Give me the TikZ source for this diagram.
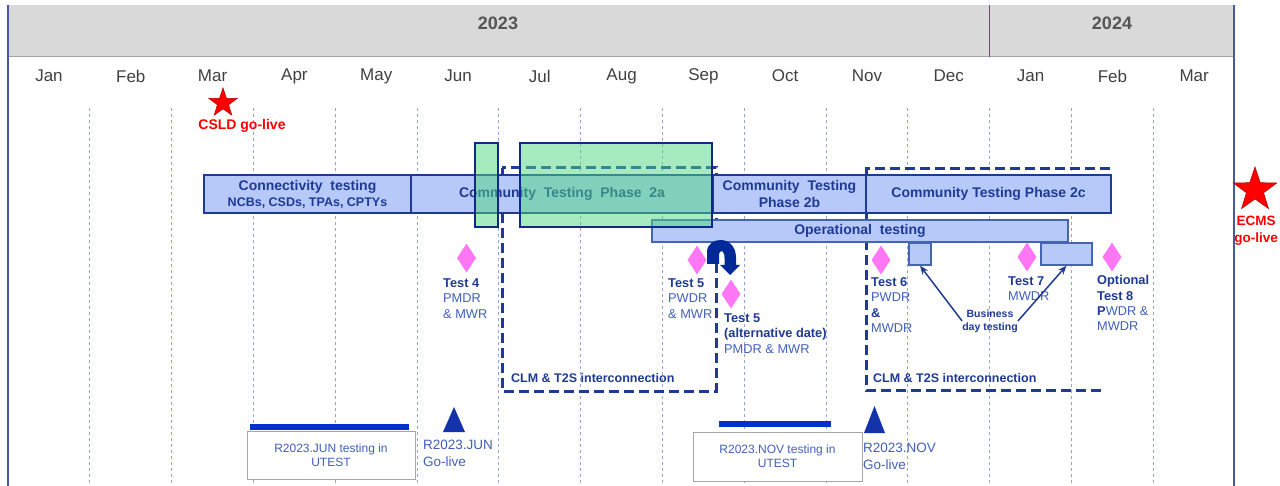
\documentclass[tikz,border=0pt]{standalone}
\usepackage{fontspec}
\setmainfont{Liberation Sans}
\usetikzlibrary{shapes.geometric,arrows.meta}
\definecolor{navy}{RGB}{31,58,147}
\definecolor{dnavy}{RGB}{16,40,138}
\definecolor{lblue}{RGB}{183,201,249}
\definecolor{mblue}{RGB}{65,95,185}
\definecolor{gridc}{RGB}{150,165,205}
\definecolor{hdr}{RGB}{217,217,217}
\definecolor{hdrline}{RGB}{165,165,165}
\definecolor{bord}{RGB}{70,90,160}
\definecolor{pinkd}{RGB}{255,119,245}
\definecolor{greenb}{RGB}{77,215,129}
\definecolor{barblue}{RGB}{0,51,204}
\definecolor{triblue}{RGB}{20,50,170}
\definecolor{txtgray}{RGB}{64,64,64}
\definecolor{yrgray}{RGB}{85,85,85}
\definecolor{arrnavy}{RGB}{0,40,150}
\definecolor{opbord}{RGB}{70,100,180}
\newcommand\bxfont{\fontsize{14}{17}\selectfont\bfseries}
\begin{document}
\begin{tikzpicture}[x=1pt,y=-1pt,
  yr/.style={font=\fontsize{18}{20}\selectfont\bfseries, text=yrgray, inner sep=0},
  mon/.style={font=\fontsize{17}{19}\selectfont, text=txtgray, inner sep=0},
  gridl/.style={gridc, line width=0.8, dash pattern=on 3pt off 3pt},
  clm/.style={navy, line width=3, dash pattern=on 10pt off 5pt},
  box/.style={draw=navy, fill=lblue, line width=2, inner sep=0, font=\bxfont, text=navy, align=center},
  opbox/.style={draw=opbord, fill=lblue, line width=1.3, inner sep=0, font=\bxfont, text=navy, align=center},
  gbox/.style={draw=dnavy, fill=greenb, fill opacity=0.5, line width=2.6, inner sep=0},
  diam/.style={diamond, fill=pinkd, minimum width=19, minimum height=29, inner sep=0},
  tlab/.style={anchor=north west, inner sep=0, align=left, font=\fontsize{12.8}{15.3}\selectfont, text=mblue},
  clmlab/.style={font=\fontsize{12.5}{15}\selectfont\bfseries, text=navy, inner sep=0},
  redstar/.style={star, star points=5, star point ratio=2.55, fill=red, draw=red!70!black, line width=0.5, inner sep=0},
  redlab/.style={font=\fontsize{14}{17}\selectfont\bfseries, text=red, inner sep=0, align=center},
  ubox/.style={draw=black!35, fill=white, line width=0.8, inner sep=0, align=center, font=\fontsize{12}{14}\selectfont, text=mblue},
  golab/.style={anchor=north west, inner sep=0, align=left, font=\fontsize{13.5}{17}\selectfont, text=mblue},
  bdarr/.style={navy, line width=1.5, -{Stealth[length=9pt,width=7pt]}}
]
\useasboundingbox (0,0) rectangle (1280,486);
% header
\fill[hdr] (8,5) rectangle (1234,57);
\draw[hdrline, line width=1] (8,57) -- (1234,57);
\draw[bord, line width=1] (989.6,5) -- (989.6,57);
\draw[bord, line width=1.2] (8,5) -- (8,486);
\draw[bord, line width=1.2] (1234,5) -- (1234,486);
\node[yr] (y2023) at (498,23) {2023};
\node[yr] (y2024) at (1112,23) {2024};
\foreach \m [count=\i from 0] in {Jan,Feb,Mar,Apr,May,Jun,Jul,Aug,Sep,Oct,Nov,Dec,Jan,Feb,Mar}
  \node[mon] (m\i) at ({49+81.8*\i},76) {\m};
\foreach \k in {1,...,14}
  \draw[gridl] ({8+81.8*\k},108) -- ({8+81.8*\k},486);

% CLM & T2S interconnection frames
\draw[clm] (502,168) rectangle (716,391);
\draw[clm] (1110,169) -- (866,169) -- (866,390) -- (1105,390);
\node[clmlab, anchor=west] (clm1) at (511,378) {CLM \& T2S interconnection};
\node[clmlab, anchor=west] (clm2) at (873,378) {CLM \& T2S interconnection};

% phase boxes
\node[box, line width=1.5, minimum width=207, minimum height=38] (conn) at (307.5,194)
  {Connectivity~ testing\\[-1pt]{\fontsize{12.5}{15}\selectfont NCBs, CSDs, TPAs, CPTYs}};
\node[box, line width=2.4, minimum width=302, minimum height=38] (ph2a) at (562,194) {Community~ Testing~ Phase~ 2a};
\node[box, line width=2.4, minimum width=153, minimum height=38] (ph2b) at (789.5,194) {Community~ Testing\\Phase 2b};
\node[box, line width=2.4, minimum width=245, minimum height=38] (ph2c) at (988.5,194) {Community Testing Phase 2c};
\node[opbox, minimum width=416, minimum height=22] (oper) at (860,231) {Operational~ testing};
\node[gbox, minimum width=23, minimum height=84] (g1) at (486.5,185) {};
\node[gbox, minimum width=192, minimum height=84] (g2) at (616,185) {};

% curved arrow (test 5 moved)
\fill[arrnavy] (707,264) -- (707,252) .. controls (707,236) and (736,234) .. (736,258) -- (736,265)
  -- (740,265) -- (730,275) -- (720,265) -- (724.5,265) -- (724.5,258)
  .. controls (724.5,249) and (719,249) .. (719,256) -- (719,264) -- cycle;

% diamonds
\node[diam] (d4) at (466.5,258) {};
\node[diam] (d5) at (697,260) {};
\node[diam] (d5a) at (731,294) {};
\node[diam] (d6) at (881,260) {};
\node[diam] (d7) at (1027,257) {};
\node[diam] (d8) at (1112,257) {};

% test labels
\node[tlab] (t4) at (443,278.5) {\textcolor{navy}{\bfseries Test 4}\\PMDR\\\& MWR};
\node[tlab] (t5) at (668,278.5) {\textcolor{navy}{\bfseries Test 5}\\PWDR\\\& MWR};
\node[tlab] (t5a) at (724,313.5) {\textcolor{navy}{\bfseries Test 5}\\\textcolor{navy}{\bfseries (alternative date)}\\PMDR \& MWR};
\node[tlab] (t6) at (871,277.5) {\textcolor{navy}{\bfseries Test 6}\\PWDR\\\textcolor{navy}{\bfseries \&}\\MWDR};
\node[tlab] (t7) at (1008,276.5) {\textcolor{navy}{\bfseries Test 7}\\MWDR};
\node[tlab] (t8) at (1097,275.5) {\textcolor{navy}{\bfseries Optional}\\\textcolor{navy}{\bfseries Test 8}\\\textcolor{navy}{\bfseries P}WDR \&\\MWDR};

% business day testing
\node[opbox, minimum width=22, minimum height=22] (b1) at (920,254) {};
\node[opbox, minimum width=51, minimum height=22] (b2) at (1066.5,254) {};
\node[inner sep=0, align=center, font=\fontsize{10.5}{13}\selectfont\bfseries, text=navy] (bdt) at (990,321) {Business\\day testing};
\draw[bdarr] (bdt.west) -- (b1.south);
\draw[bdarr] (bdt.east) -- (b2.south);

% releases
\draw[barblue, line width=6] (250,427) -- (409,427);
\node[ubox, minimum width=168, minimum height=48] (u1) at (331,455) {R2023.JUN testing in\\UTEST};
\fill[triblue] (454,407) -- (465,432) -- (443,432) -- cycle;
\node[golab] (gl1) at (423,440) {R2023.JUN\\Go-live};
\draw[barblue, line width=6] (719,424) -- (831,424);
\node[ubox, minimum width=169, minimum height=49] (u2) at (777.5,456.5) {R2023.NOV testing in\\UTEST};
\fill[triblue] (874.5,406) -- (885,433) -- (864,433) -- cycle;
\node[golab] (gl2) at (863,443) {R2023.NOV\\Go-live};

% go-live stars
\node[redstar, minimum size=30] (s1) at (223,103) {};
\node[redlab] (s1l) at (242,126) {CSLD go-live};
\node[redstar, minimum size=46] (s2) at (1255,190) {};
\node[redlab, font=\fontsize{13.5}{17}\selectfont\bfseries] (s2l) at (1256,231) {ECMS\\go-live};
\end{tikzpicture}
\end{document}
